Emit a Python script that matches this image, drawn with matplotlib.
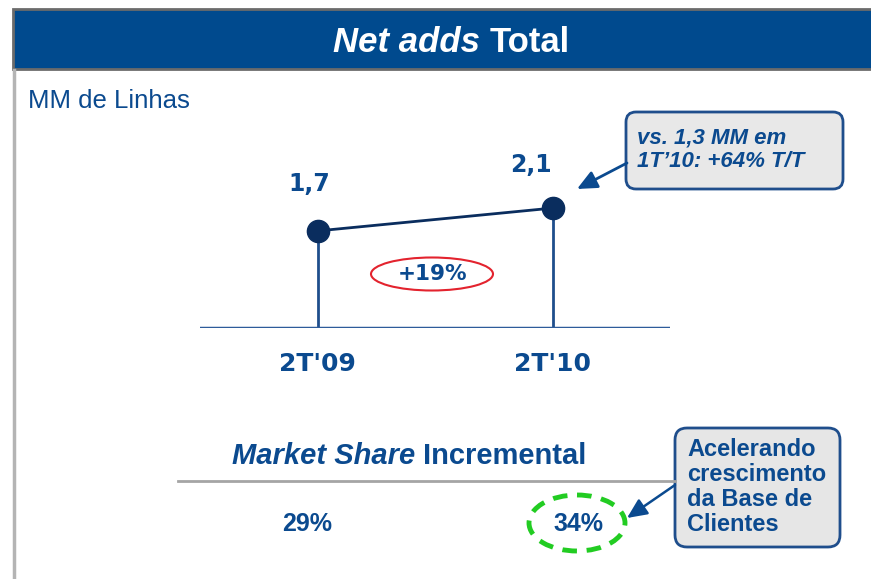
import matplotlib.pyplot as plt
from matplotlib.patches import Rectangle, FancyBboxPatch, Ellipse

# dados
periodos = ["2T'09", "2T'10"]
net_adds = [1.7, 2.1]
rotulos = ["1,7", "2,1"]
variacao = "+19%"
share_incremental = ["29%", "34%"]

azul = '#0B4A8F'
azul_hdr = '#004A8E'
marinho = '#0A2D5E'

fig = plt.figure(figsize=(8.71, 5.79), dpi=100)
renderer = fig.canvas.get_renderer()

# eixo de fundo em pixels para a moldura e os textos
bg = fig.add_axes([0, 0, 1, 1])
bg.set_xlim(0, 871)
bg.set_ylim(579, 0)
bg.axis('off')


def texto_misto(xc, y, partes, **kw):
    # partes: lista de (texto, estilo); centraliza o conjunto em xc
    objs = [bg.text(0, y, t, fontstyle=s, ha='left', va='center', **kw) for t, s in partes]
    larguras = [o.get_window_extent(renderer).width for o in objs]
    x = xc - sum(larguras) / 2
    for o, w in zip(objs, larguras):
        o.set_x(x)
        x += w


# cabecalho
bg.add_patch(Rectangle((13, 9), 870, 60, facecolor=azul_hdr, edgecolor='#6B6B6B', lw=2))
bg.plot([13.5, 13.5], [70, 579], color='#B4B4B4', lw=2.5)
texto_misto(451, 43, [('Net adds ', 'italic'), ('Total', 'normal')],
            color='white', fontsize=25, fontweight='bold', family='Liberation Sans')

bg.text(28, 101, 'MM de Linhas', color=azul, fontsize=18.5, family='Liberation Sans',
        ha='left', va='center')

# grafico de pirulito
ax = fig.add_axes([200 / 871, (579 - 328) / 579, 470 / 871, 171.3 / 579])
ax.set_xlim(-0.5, 1.5)
ax.set_ylim(0, 3.0)
ax.axis('off')
x = range(len(periodos))
ax.vlines(x, 0, net_adds, color='#1F4E8C', lw=2)
ax.axhline(0, color='#2E5C9A', lw=2.5)
ax.plot(x, net_adds, color=marinho, lw=2, marker='o', ms=16, zorder=3)

desloc = [(-8, 47), (-22, 43)]
for i, (v, r) in enumerate(zip(net_adds, rotulos)):
    ax.annotate(r, (i, v), xytext=desloc[i], textcoords='offset pixels',
                ha='center', va='center', color=azul, fontsize=17, fontweight='bold',
                family='DejaVu Sans')
    ax.annotate(periodos[i], (i, 0), xytext=(0, -36), textcoords='offset pixels',
                ha='center', va='center', color=azul, fontsize=18, fontweight='bold',
                family='DejaVu Sans')

# variacao
bg.add_patch(Ellipse((432, 274), 122, 33, facecolor='none', edgecolor='#E3232E', lw=1.5))
bg.text(432, 274, variacao, color=azul, fontsize=15.5, fontweight='bold',
        family='DejaVu Sans', ha='center', va='center')

# caixa 1
bg.add_patch(FancyBboxPatch((632, 118), 205, 65, boxstyle='round,pad=6,rounding_size=10',
                            facecolor='#E8E8E8', edgecolor='#1F4E8C', lw=2))
bg.text(637, 150, 'vs. 1,3 MM em\n1T\u201910: +64% T/T', color=azul, fontsize=16,
        fontweight='bold', fontstyle='italic', family='Liberation Sans',
        ha='left', va='center', linespacing=1.15)
bg.annotate('', xy=(577, 189), xytext=(627, 163),
            arrowprops=dict(arrowstyle='-|>,head_length=1.2,head_width=0.55',
                            color='#0B4A8F', lw=2, shrinkA=0, shrinkB=0))

# market share incremental
texto_misto(409, 456, [('Market Share ', 'italic'), ('Incremental', 'normal')],
            color=azul, fontsize=21, fontweight='bold', family='Liberation Sans')
bg.plot([178, 675], [481, 481], color='#A5A5A5', lw=2)

pos_share = [307, 578]
for px, s in zip(pos_share, share_incremental):
    bg.text(px, 524, s, color=azul, fontsize=18, fontweight='bold',
            family='Liberation Sans', ha='center', va='center')

bg.add_patch(Ellipse((577, 523), 96, 56, facecolor='none', edgecolor='#22CC22',
                     lw=3.5, linestyle=(0, (3, 2))))

# caixa 2
bg.add_patch(FancyBboxPatch((681, 434), 153, 107, boxstyle='round,pad=6,rounding_size=12',
                            facecolor='#E6E6E6', edgecolor='#1F4E8C', lw=2))
bg.text(687, 487, 'Acelerando\ncrescimento\nda Base de\nClientes', color=azul,
        fontsize=17, fontweight='bold', family='Liberation Sans', ha='left',
        va='center', linespacing=1.1)
bg.annotate('', xy=(627, 518), xytext=(675, 485),
            arrowprops=dict(arrowstyle='-|>,head_length=1.2,head_width=0.55',
                            color='#0B4A8F', lw=1.8, shrinkA=0, shrinkB=0))

fig.savefig('out.png', dpi=100)
